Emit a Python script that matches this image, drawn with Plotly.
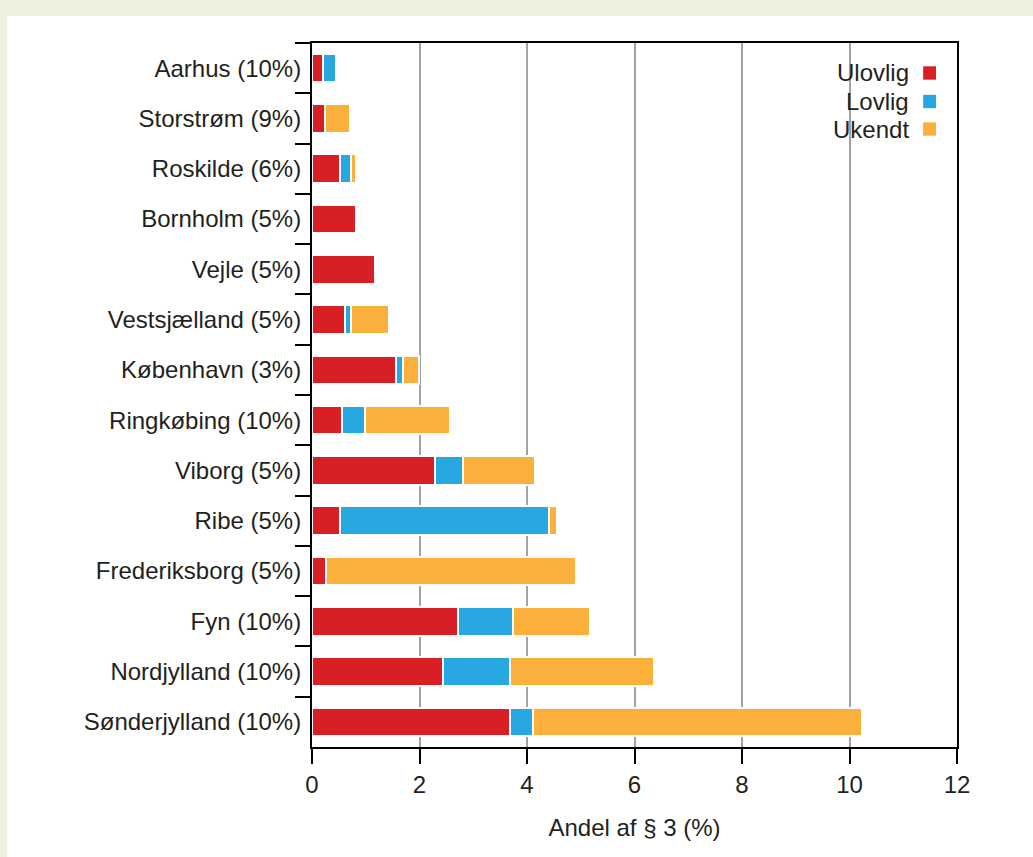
import plotly.graph_objects as go

categories = ["Aarhus (10%)", "Storstrøm (9%)", "Roskilde (6%)", "Bornholm (5%)",
              "Vejle (5%)", "Vestsjælland (5%)", "København (3%)", "Ringkøbing (10%)",
              "Viborg (5%)", "Ribe (5%)", "Frederiksborg (5%)", "Fyn (10%)",
              "Nordjylland (10%)", "Sønderjylland (10%)"]
ulovlig = [0.20, 0.25, 0.52, 0.81, 1.17, 0.61, 1.57, 0.56, 2.29, 0.52, 0.26, 2.71, 2.44, 3.69]
lovlig = [0.25, 0.00, 0.20, 0.00, 0.00, 0.11, 0.13, 0.42, 0.52, 3.89, 0.00, 1.03, 1.25, 0.42]
ukendt = [0.00, 0.46, 0.09, 0.00, 0.00, 0.71, 0.29, 1.58, 1.33, 0.14, 4.65, 1.44, 2.67, 6.13]
series_names = ["Ulovlig", "Lovlig", "Ukendt"]
series_colors = ["#d91f26", "#27a8e0", "#fbb03b"]
x_ticks = [0, 2, 4, 6, 8, 10, 12]
x_title = "Andel af § 3 (%)"

FONT = "Liberation Sans, Arial, sans-serif"
TXT = "#231f20"
FS = 24

fig = go.Figure()
for name, vals, col in zip(series_names, [ulovlig, lovlig, ukendt], series_colors):
    fig.add_trace(go.Bar(
        y=categories, x=vals, name=name, orientation="h",
        marker=dict(color=col, line=dict(color="white", width=2)),
        showlegend=False,
    ))

# white panel on cream background
fig.add_shape(type="rect", xref="paper", yref="paper",
              x0=-0.473, x1=1.13, y0=-0.18, y1=1.0384,
              fillcolor="white", line=dict(width=0), layer="below")

# legend (text right, swatch at right)
leg_y = [0.9574, 0.9169, 0.8778]
for name, col, yy in zip(series_names, series_colors, leg_y):
    fig.add_annotation(xref="paper", yref="paper", x=0.928, y=yy, text=name,
                       showarrow=False, xanchor="right", yanchor="middle",
                       font=dict(family=FONT, size=FS, color=TXT))
    fig.add_shape(type="rect", xref="paper", yref="paper",
                  x0=0.9475, x1=0.9675, y0=yy - 0.0095, y1=yy + 0.0095,
                  fillcolor=col, line=dict(width=0))

fig.update_layout(
    width=1033, height=857,
    margin=dict(l=312, r=76, t=43, b=110),
    paper_bgcolor="#eeefdc", plot_bgcolor="white",
    barmode="stack", bargap=0.43,
    font=dict(family=FONT, size=FS, color=TXT),
    xaxis=dict(range=[0, 12], tickvals=x_ticks, ticks="outside", ticklen=15,
               tickwidth=2, tickcolor="black", showline=True, linecolor="black",
               linewidth=2, mirror=True, showgrid=True, gridcolor="#a3a3a3",
               gridwidth=2, zeroline=False,
               title=dict(text=x_title, standoff=22,
                          font=dict(family=FONT, size=FS, color=TXT)),
               tickfont=dict(family=FONT, size=FS, color=TXT)),
    yaxis=dict(categoryorder="array", categoryarray=categories,
               autorange="reversed", ticks="outside", ticklen=15, tickwidth=2,
               tickcolor="black", tickson="boundaries", showline=True,
               linecolor="black", linewidth=2, mirror=True, showgrid=False,
               ticklabelstandoff=4,
               tickfont=dict(family=FONT, size=FS, color=TXT)),
)

fig.write_html(
    "out.html",
    config={"displayModeBar": False},
    post_script="document.body.style.margin='0';document.body.style.background='#eeefdc';",
)
